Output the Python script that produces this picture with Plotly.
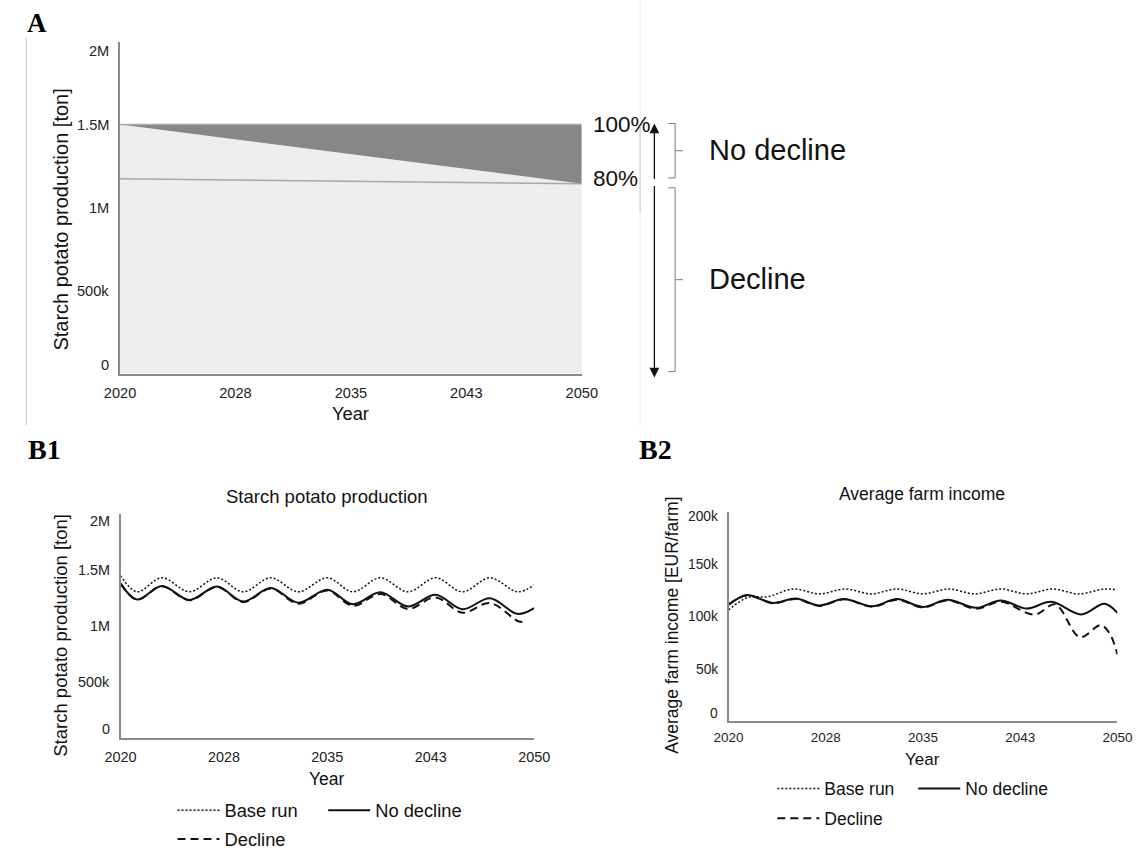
import plotly.graph_objects as go

W, H = 1148, 858

# ---------------- data ----------------
# Panel A : scenario range of starch potato production (ton)
a_years = [2020, 2050]
a_full = [1.5e6, 1.5e6]            # 100 % production level
a_boundary = [1.5e6, 1.143e6]      # boundary between decline / no decline
a_ref_line = [1.174e6, 1.143e6]    # 80 % reference line

year_tickvals = [2020, 2027.5, 2035, 2042.5, 2050]
year_ticktext = ["2020", "2028", "2035", "2043", "2050"]

prod_ticks = [0, 5e5, 1e6, 1.5e6, 2e6]
prod_ticktext = ["0", "500k", "1M", "1.5M", "2M"]
inc_ticks = [0, 5e4, 1e5, 1.5e5, 2e5]
inc_ticktext = ["0", "50k", "100k", "150k", "200k"]

# Panel B1 : starch potato production (ton)
b1_x = [2020, 2021.2, 2023.0, 2025.0, 2027.0, 2028.9, 2030.9, 2032.9, 2035.0,
        2036.85, 2038.85, 2040.85, 2042.85, 2044.8, 2046.8, 2048.8, 2050]
b1_base = [1.45e6, 1.305e6, 1.43e6, 1.305e6, 1.43e6, 1.305e6, 1.43e6, 1.305e6, 1.43e6,
           1.305e6, 1.43e6, 1.305e6, 1.43e6, 1.305e6, 1.43e6, 1.305e6, 1.365e6]
b1_nodecl = [1.38e6, 1.236e6, 1.357e6, 1.232e6, 1.353e6, 1.219e6, 1.34e6, 1.208e6, 1.324e6,
             1.194e6, 1.30e6, 1.174e6, 1.278e6, 1.15e6, 1.247e6, 1.108e6, 1.16e6]
b1_decl_x = [2020, 2021.2, 2023.0, 2025.0, 2027.0, 2028.9, 2030.9, 2032.9, 2035.0,
             2036.85, 2038.85, 2040.85, 2042.85, 2044.8, 2046.8, 2048.9, 2049.5]
b1_decl = [1.38e6, 1.236e6, 1.354e6, 1.229e6, 1.348e6, 1.213e6, 1.334e6, 1.199e6, 1.317e6,
           1.179e6, 1.285e6, 1.152e6, 1.255e6, 1.118e6, 1.205e6, 1.04e6, 1.042e6]

# Panel B2 : average farm income (EUR/farm)
b2_base_x = [2020, 2021.5, 2023.0, 2025.0, 2027.0, 2029.0, 2031.0, 2033.0, 2035.0,
             2037.0, 2039.0, 2041.0, 2043.0, 2045.0, 2047.0, 2049.0, 2050]
b2_base = [106.5e3, 118.5e3, 119.0e3, 126.5e3, 121.8e3, 126.5e3, 121.8e3, 126.5e3, 121.8e3,
           126.5e3, 121.8e3, 126.5e3, 121.8e3, 126.5e3, 121.8e3, 126.5e3, 125.8e3]
b2_nd_x = [2020, 2021.4, 2023.4, 2025.2, 2027.0, 2028.9, 2031.1, 2033.0, 2035.0,
           2036.9, 2039.1, 2041.0, 2043.0, 2044.9, 2047.2, 2049.0, 2050]
b2_nodecl = [111.5e3, 120.6e3, 113.2e3, 117.3e3, 110.7e3, 117.0e3, 110.0e3, 116.8e3, 109.4e3,
             116.2e3, 108.5e3, 115.5e3, 107.8e3, 114.2e3, 102.2e3, 112.4e3, 103.8e3]
b2_d_x = [2020, 2021.4, 2023.4, 2025.2, 2027.0, 2028.9, 2031.1, 2033.0, 2035.0,
          2036.9, 2039.1, 2041.0, 2043.6, 2045.2, 2047.1, 2048.7, 2049.4, 2050]
b2_decl = [111.5e3, 120.4e3, 112.9e3, 116.9e3, 110.3e3, 116.6e3, 109.5e3, 116.2e3, 108.8e3,
           115.6e3, 107.6e3, 114.3e3, 102.0e3, 111.8e3, 80.5e3, 92.0e3, 84.0e3, 64.0e3]


def px(x):
    return x / W


def py(y):
    return 1 - y / H


SANS = "Liberation Sans, Arial, Helvetica, sans-serif"
SERIF = "Liberation Serif, Times New Roman, serif"
AXC = "#8a8a8a"

fig = go.Figure()

# ---------- Panel A ----------
fig.add_trace(go.Scatter(x=a_years, y=a_boundary, mode="lines", fill="tozeroy",
                         fillcolor="#eeeeee", line=dict(width=0, color="#eeeeee"),
                         showlegend=False, hoverinfo="skip", xaxis="x", yaxis="y"))
fig.add_trace(go.Scatter(x=a_years, y=a_full, mode="lines", fill="tonexty",
                         fillcolor="#878787", line=dict(width=1.5, color="#aaaaaa"),
                         showlegend=False, hoverinfo="skip", xaxis="x", yaxis="y"))
fig.add_trace(go.Scatter(x=a_years, y=a_ref_line, mode="lines",
                         line=dict(width=1.5, color="#a8a8a8"),
                         showlegend=False, hoverinfo="skip", xaxis="x", yaxis="y"))

# ---------- Panel B1 ----------
DOT = "2px,2px"
DASH = "8px,5px"
fig.add_trace(go.Scatter(x=b1_x, y=b1_base, mode="lines", name="Base run",
                         line=dict(color="#111", width=1.5, dash=DOT, shape="spline"),
                         xaxis="x2", yaxis="y2", legend="legend"))
fig.add_trace(go.Scatter(x=b1_x, y=b1_nodecl, mode="lines", name="No decline",
                         line=dict(color="#111", width=2, shape="spline"),
                         xaxis="x2", yaxis="y2", legend="legend2"))
fig.add_trace(go.Scatter(x=b1_decl_x, y=b1_decl, mode="lines", name="Decline",
                         line=dict(color="#111", width=2, dash=DASH, shape="spline"),
                         xaxis="x2", yaxis="y2", legend="legend3"))

# ---------- Panel B2 ----------
fig.add_trace(go.Scatter(x=b2_base_x, y=b2_base, mode="lines", name="Base run",
                         line=dict(color="#111", width=1.5, dash=DOT, shape="spline"),
                         xaxis="x3", yaxis="y3", legend="legend4"))
fig.add_trace(go.Scatter(x=b2_nd_x, y=b2_nodecl, mode="lines", name="No decline",
                         line=dict(color="#111", width=2, shape="spline"),
                         xaxis="x3", yaxis="y3", legend="legend5"))
fig.add_trace(go.Scatter(x=b2_d_x, y=b2_decl, mode="lines", name="Decline",
                         line=dict(color="#111", width=2, dash=DASH, shape="spline"),
                         xaxis="x3", yaxis="y3", legend="legend6"))


def xax(domain, anchor, size, standoff, lw):
    return dict(domain=domain, anchor=anchor, range=[2020, 2050], showline=True,
                linecolor=AXC, linewidth=lw, showgrid=False, zeroline=False, ticks="",
                tickvals=year_tickvals, ticktext=year_ticktext,
                tickfont=dict(family=SANS, size=size, color="#222"),
                ticklabelstandoff=standoff, fixedrange=True)


def yax(domain, anchor, rng, lw):
    return dict(domain=domain, anchor=anchor, range=rng, showline=True,
                linecolor=AXC, linewidth=lw, showgrid=False, zeroline=False, ticks="",
                showticklabels=False, fixedrange=True)


ITEMW = 42


def leg(text_x, cy, size):
    return dict(orientation="v", bgcolor="rgba(0,0,0,0)", borderwidth=0,
                xanchor="left", yanchor="middle", itemwidth=ITEMW,
                font=dict(family=SANS, size=size, color="#111"),
                x=px(text_x - ITEMW - 10), y=py(cy))


fig.update_layout(
    width=W, height=H, autosize=False,
    margin=dict(l=0, r=0, t=0, b=0),
    paper_bgcolor="white", plot_bgcolor="white",
    xaxis=xax([px(107), px(582)], "y", 14.6, 5, 2),
    yaxis=yax([py(378), py(42)], "x", [0, 2e6], 2),
    xaxis2=xax([px(107.5), px(533)], "y2", 14.4, 5, 1.6),
    yaxis2=yax([py(746.7), py(520)], "x2", [0, 2e6], 1.6),
    xaxis3=xax([px(733), px(1133)], "y3", 13.5, 3, 1.6),
    yaxis3=yax([py(730), py(518)], "x3", [0, 2e5], 1.6),
    legend=leg(213, 820, 18.3),
    legend2=leg(368, 820, 18.3),
    legend3=leg(213, 849, 18.3),
    legend4=leg(830, 798, 17.5),
    legend5=leg(975, 798, 17.5),
    legend6=leg(830, 828, 17.5),
)

ann = []


def text(x, y, t, size, anchor="center", family=SANS, angle=0, bold=False, color="#111"):
    ann.append(dict(x=px(x), y=py(y), xref="paper", yref="paper", text=(f"<b>{t}</b>" if bold else t),
                    showarrow=False, xanchor=anchor, yanchor="middle", textangle=angle,
                    font=dict(family=family, size=size, color=color)))


# y tick labels (labels at the extremes sit inside the axis range)
def yticks(yref, axis_x, vals, labels, shifts, size):
    for v, t, s in zip(vals, labels, shifts):
        ann.append(dict(x=px(axis_x - 9), y=v, xref="paper", yref=yref, text=t,
                        showarrow=False, xanchor="right", yanchor="middle", yshift=s,
                        font=dict(family=SANS, size=size, color="#222")))


yticks("y", 107, prod_ticks, prod_ticktext, [9, 0, 0, 0, -9.7], 14.6)
yticks("y2", 107.5, prod_ticks, prod_ticktext, [8.5, 0, 0, 0, -7], 14.4)
yticks("y3", 733, inc_ticks, inc_ticktext, [8, 0, 0, 0, -5], 13.8)

# panel letters
text(9, 23.5, "A", 27, "left", SERIF, bold=True, color="#000")
text(10, 455, "B1", 28, "left", SERIF, bold=True, color="#000")
text(639, 455, "B2", 28, "left", SERIF, bold=True, color="#000")

# axis titles
text(344, 418, "Year", 18.3)
text(46.5, 222, "Starch potato production [ton]", 20, angle=-90)
text(319.6, 788, "Year", 17.5)
text(45.5, 643, "Starch potato production [ton]", 18.5, angle=-90)
text(932, 768, "Year", 17)
text(674, 633, "Average farm income [EUR/farm]", 17.5, angle=-90)

# chart titles
text(320, 502, "Starch potato production", 18.5)
text(932, 500, "Average farm income", 17.5)

# scenario labels (panel A)
text(592, 126, "100%", 22.5, "left")
text(592, 180.5, "80%", 22.5, "left")
text(711, 151.7, "No decline", 29, "left")
text(711, 282.7, "Decline", 29, "left")

# arrows
ann.append(dict(x=px(656.7), y=py(125), xref="paper", yref="paper", ax=0, ay=57,
                text="", showarrow=True, arrowhead=2, arrowsize=1.5, arrowwidth=1.3,
                arrowcolor="#111"))
ann.append(dict(x=px(656.7), y=py(382), xref="paper", yref="paper", ax=0, ay=-193,
                text="", showarrow=True, arrowhead=2, arrowsize=1.5, arrowwidth=1.3,
                arrowcolor="#111"))

fig.update_layout(annotations=ann)


def path(points_list):
    s = ""
    for pts in points_list:
        s += "M" + " L".join(f"{px(a):.5f},{py(b):.5f}" for a, b in pts) + " "
    return s.strip()


shapes = []
# braces
for top, bot in [(125, 180), (190, 376)]:
    mid = (top + bot) / 2
    shapes.append(dict(type="path", xref="paper", yref="paper",
                       path=path([[(671, top), (678, top), (678, bot), (671, bot)],
                                  [(678, mid), (686, mid)]]),
                       line=dict(color="#7a7a7a", width=1)))
# frame remnants
shapes.append(dict(type="line", xref="paper", yref="paper", x0=px(10.5), x1=px(10.5),
                   y0=py(38), y1=py(430), line=dict(color="#c4c4c4", width=1)))
shapes.append(dict(type="line", xref="paper", yref="paper", x0=px(642), x1=px(642),
                   y0=py(0), y1=py(432), line=dict(color="#f0f0f0", width=1)))
shapes.append(dict(type="line", xref="paper", yref="paper", x0=px(642), x1=px(642),
                   y0=py(128), y1=py(215), line=dict(color="#cccccc", width=1)))
fig.update_layout(shapes=shapes)

fig.write_html("out.html")
